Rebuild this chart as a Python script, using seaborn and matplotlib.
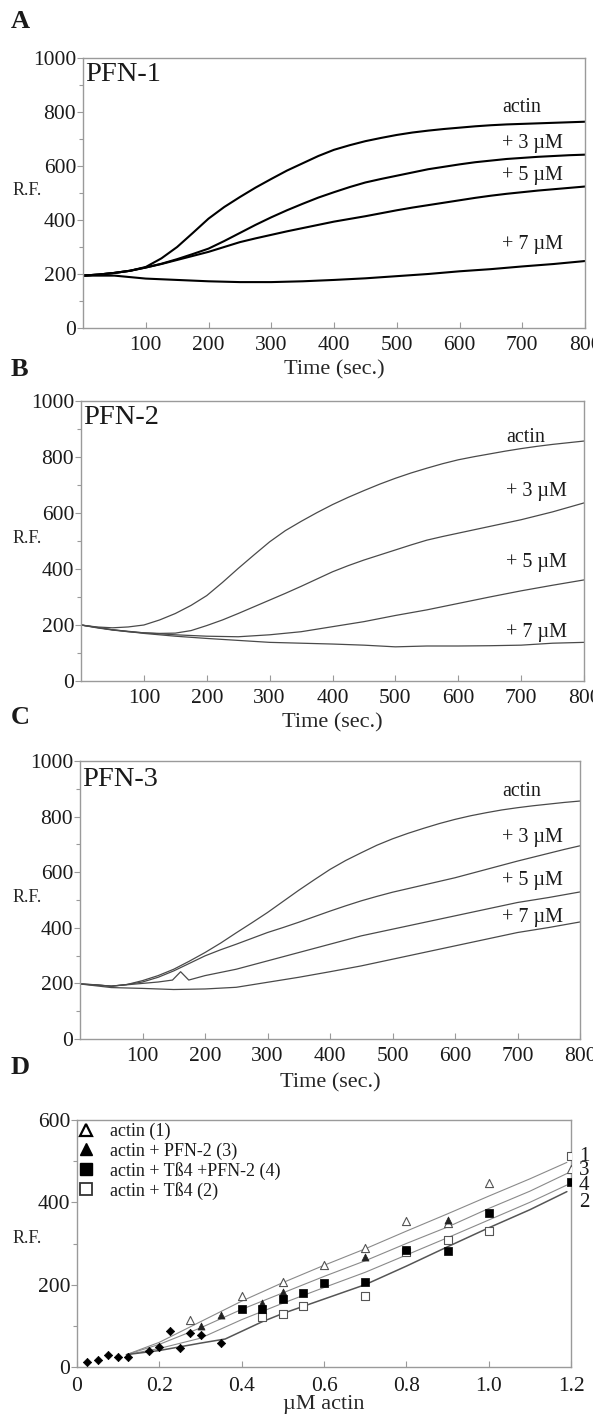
import matplotlib
matplotlib.use("Agg")
import matplotlib.pyplot as plt
from matplotlib.ticker import MultipleLocator, FixedLocator
from matplotlib.lines import Line2D
import pandas as pd
import seaborn as sns

# ---------------- data ----------------
time_25 = list(range(0, 801, 25))
time_50 = list(range(0, 801, 50))
curve_labels = ["actin", "+ 3 \u00b5M", "+ 5 \u00b5M", "+ 7 \u00b5M"]

pfn1_actin = [194, 198, 204, 212, 226, 258, 300, 352, 405, 448, 485, 520, 552, 583, 610, 637, 660,
              677, 692, 704, 715, 724, 731, 737, 742, 747, 751, 754, 756, 758, 760, 762, 764]
pfn1_3uM = [194, 198, 204, 212, 224, 238, 255, 274, 294, 322, 352, 382, 410, 436, 460, 483, 503,
            522, 539, 552, 564, 576, 588, 597, 606, 614, 620, 626, 630, 634, 637, 640, 642]
pfn1_5uM = [194, 198, 204, 212, 224, 237, 252, 267, 282, 300, 318, 332, 345, 358, 370, 382, 394,
            404, 414, 425, 436, 446, 455, 464, 473, 482, 490, 497, 503, 509, 514, 519, 524]
pfn1_7uM = [194, 194, 183, 178, 173, 170, 170, 173, 178, 184, 192, 200, 210, 218, 228, 237, 248]

pfn2_actin = [200, 193, 190, 193, 200, 218, 241, 270, 305, 352, 402, 450, 497, 537, 570, 601, 630,
              656, 680, 703, 724, 743, 760, 776, 790, 801, 811, 821, 830, 838, 845, 851, 857]
pfn2_3uM = [200, 190, 182, 176, 172, 170, 171, 180, 198, 218, 241, 265, 289, 313, 338, 364, 390,
            412, 432, 450, 468, 486, 503, 516, 528, 540, 552, 564, 576, 590, 604, 620, 636]
pfn2_5uM = [200, 183, 172, 165, 160, 158, 165, 176, 194, 212, 234, 254, 277, 300, 322, 342, 361]
pfn2_7uM = [200, 183, 170, 160, 152, 145, 138, 135, 132, 128, 122, 125, 125, 126, 128, 135, 138]

pfn3_actin = [198, 195, 190, 196, 210, 228, 251, 280, 311, 345, 382, 418, 455, 495, 535, 573, 610,
              642, 670, 697, 720, 740, 758, 775, 790, 803, 814, 824, 832, 839, 845, 851, 856]
pfn3_3uM = [198, 195, 190, 196, 205, 222, 245, 272, 299, 321, 341, 362, 383, 401, 420, 440, 460,
            479, 497, 513, 528, 541, 554, 567, 580, 595, 610, 625, 640, 654, 668, 682, 695]
pfn3_5uM_time = [0, 50, 100, 125, 148, 161, 174, 200, 250, 300, 350, 400, 450, 500, 550, 600, 650,
                 700, 750, 800]
pfn3_5uM = [198, 190, 200, 205, 212, 242, 212, 228, 251, 281, 311, 341, 371, 395, 419, 443, 467,
            491, 509, 529]
pfn3_7uM = [198, 185, 182, 178, 180, 186, 204, 222, 242, 263, 287, 311, 335, 359, 383, 401, 421]

# panel D points
diamond_x = [0.025, 0.05, 0.075, 0.10, 0.125, 0.175, 0.20, 0.225, 0.25, 0.275, 0.30, 0.35]
diamond_y = [13, 16, 30, 24, 24, 39, 49, 87, 47, 83, 77, 59]
actin1_x = [0.275, 0.40, 0.50, 0.60, 0.70, 0.80, 0.90, 1.00, 1.20]
actin1_y = [114, 173, 207, 248, 288, 355, 350, 446, 480]
pfn2_3_x = [0.30, 0.35, 0.45, 0.50, 0.70, 0.90]
pfn2_3_y = [100, 126, 156, 181, 266, 358]
tb4pfn2_4_x = [0.40, 0.45, 0.50, 0.55, 0.60, 0.70, 0.80, 0.90, 1.00, 1.20]
tb4pfn2_4_y = [142, 142, 165, 180, 203, 207, 284, 282, 373, 450]
tb4_2_x = [0.45, 0.50, 0.55, 0.70, 0.80, 0.90, 1.00, 1.20]
tb4_2_y = [121, 128, 147, 173, 280, 308, 331, 512]

fit_x = [0.12, 0.2, 0.3, 0.4, 0.5, 0.6, 0.7, 0.8, 0.9, 1.0, 1.1, 1.19]
fit1_y = [30, 60, 110, 160, 205, 247, 287, 330, 372, 415, 457, 497]
fit3_y = [30, 55, 95, 140, 180, 220, 258, 300, 340, 385, 427, 470]
fit4_y = [30, 45, 70, 115, 155, 193, 230, 272, 314, 357, 400, 442]
fit2_x = [0.12, 0.2, 0.3, 0.36, 0.45, 0.5, 0.6, 0.7, 0.8, 0.9, 1.0, 1.1, 1.19]
fit2_y = [30, 40, 58, 68, 110, 130, 165, 200, 245, 292, 338, 382, 426]

legend_labels = ["actin (1)", "actin + PFN-2 (3)", "actin + T\u00df4 +PFN-2 (4)", "actin + T\u00df4 (2)"]
end_labels = ["1", "3", "4", "2"]
end_label_y = [512, 477, 441, 399]

# ---------------- style ----------------
sns.set_style("ticks")
plt.rcParams['font.family'] = ['Liberation Serif', 'DejaVu Serif']
plt.rcParams['axes.edgecolor'] = '#9a9a9a'
plt.rcParams['text.color'] = '#1a1a1a'

W, H = 593, 1416
fig = plt.figure(figsize=(W / 100, H / 100), dpi=100)


def rect(x0, x1, y0, y1):
    return [x0 / W, 1 - y1 / H, (x1 - x0) / W, (y1 - y0) / H]


def style_axes(ax, xpad=6):
    for s in ax.spines.values():
        s.set_visible(True)
        s.set_color('#9a9a9a')
        s.set_linewidth(1.0)
    ax.tick_params(axis='y', which='both', direction='out', length=4, width=0.8,
                   color='#9a9a9a', labelsize=15.5, pad=1, labelcolor='#1a1a1a')
    ax.tick_params(axis='y', which='minor', length=3)
    ax.tick_params(axis='x', which='both', direction='in', length=4, width=0.8,
                   color='#9a9a9a', labelsize=15.5, pad=xpad, labelcolor='#1a1a1a')


panels = [
    ("A", "PFN-1", rect(83, 585, 58, 328), [pfn1_actin, pfn1_3uM, pfn1_5uM, pfn1_7uM],
     [time_25, time_25, time_25, time_50], 'black', 1.5,
     [(668, 816), (668, 685), (668, 564), (668, 309)], 939, 22, 370),
    ("B", "PFN-2", rect(81, 584, 401, 681), [pfn2_actin, pfn2_3uM, pfn2_5uM, pfn2_7uM],
     [time_25, time_25, time_50, time_50], '#4a4a4a', 0.9,
     [(676, 869), (676, 677), (676, 423), (676, 172)], 940, 370, 723),
    ("C", "PFN-3", rect(80, 580, 761, 1039), [pfn3_actin, pfn3_3uM, pfn3_5uM, pfn3_7uM],
     [time_25, time_25, pfn3_5uM_time, time_50], '#4a4a4a', 0.9,
     [(675, 892), (675, 725), (675, 569), (675, 437)], 934, 718, 1083),
]

for letter, name, r, ys, xs, col, lw, labpos, name_y, letter_y, xlab_y in panels:
    ax = fig.add_axes(r)
    for x, y in zip(xs, ys):
        df = pd.DataFrame({"t": x, "rf": y})
        sns.lineplot(data=df, x="t", y="rf", ax=ax, color=col, linewidth=lw)
    for lab, (lx, ly) in zip(curve_labels, labpos):
        ax.text(lx, ly, lab, fontsize=14.5, ha='left', va='center')
    ax.text(4, name_y, name, fontsize=20.5, ha='left', va='center')
    ax.set_xlim(0, 800)
    ax.set_ylim(0, 1000)
    ax.xaxis.set_major_locator(FixedLocator([100, 200, 300, 400, 500, 600, 700, 800]))
    ax.yaxis.set_major_locator(MultipleLocator(200))
    ax.yaxis.set_minor_locator(MultipleLocator(100))
    style_axes(ax)
    ax.set_xlabel("Time (sec.)", fontsize=16)
    ax.set_ylabel("R.F.", fontsize=13, rotation=0)
    bottom_px = (1 - r[1]) * H
    hpx = r[3] * H
    ax.xaxis.set_label_coords(0.5, -(xlab_y - bottom_px) / hpx)
    ax.xaxis.label.set_va('center')
    ax.yaxis.set_label_coords(-(r[0] * W - 27) / (r[2] * W), 0.51)
    ax.yaxis.label.set_va('center')
    ax.yaxis.label.set_ha('center')
    fig.text(11 / W, 1 - letter_y / H, letter, fontsize=19, fontweight='bold',
             ha='left', va='center')

# ---------------- panel D ----------------
rD = rect(77, 571, 1120, 1367)
axd = fig.add_axes(rD)
for fx, fy, c, w in [(fit_x, fit1_y, '#8a8a8a', 0.8), (fit_x, fit3_y, '#8a8a8a', 0.8),
                     (fit_x, fit4_y, '#8a8a8a', 0.8), (fit2_x, fit2_y, '#555555', 1.1)]:
    sns.lineplot(data=pd.DataFrame({"x": fx, "y": fy}), x="x", y="y", ax=axd,
                 color=c, linewidth=w)

sns.scatterplot(data=pd.DataFrame({"x": diamond_x, "y": diamond_y}), x="x", y="y", ax=axd,
                marker='D', s=18, color='black', edgecolor='black', linewidth=0.5, zorder=5)
sns.scatterplot(data=pd.DataFrame({"x": actin1_x, "y": actin1_y}), x="x", y="y", ax=axd,
                marker='^', s=34, facecolor='white', edgecolor='#555555', linewidth=0.8, zorder=5)
sns.scatterplot(data=pd.DataFrame({"x": pfn2_3_x, "y": pfn2_3_y}), x="x", y="y", ax=axd,
                marker='^', s=26, color='#222222', edgecolor='#222222', linewidth=0.5, zorder=5)
sns.scatterplot(data=pd.DataFrame({"x": tb4pfn2_4_x, "y": tb4pfn2_4_y}), x="x", y="y", ax=axd,
                marker='s', s=34, color='black', edgecolor='black', linewidth=0.5, zorder=6)
sns.scatterplot(data=pd.DataFrame({"x": tb4_2_x, "y": tb4_2_y}), x="x", y="y", ax=axd,
                marker='s', s=34, facecolor='white', edgecolor='#555555', linewidth=0.8, zorder=5)

handles = [
    Line2D([], [], linestyle='none', marker='^', markersize=9, markerfacecolor='white',
           markeredgecolor='black', markeredgewidth=1.6),
    Line2D([], [], linestyle='none', marker='^', markersize=9, markerfacecolor='black',
           markeredgecolor='black'),
    Line2D([], [], linestyle='none', marker='s', markersize=8.5, markerfacecolor='black',
           markeredgecolor='black'),
    Line2D([], [], linestyle='none', marker='s', markersize=8.5, markerfacecolor='white',
           markeredgecolor='#333333', markeredgewidth=1.3),
]
axd.legend(handles, legend_labels, loc='upper left', bbox_to_anchor=(-0.005, 1.0),
           frameon=False, fontsize=13, labelspacing=0.12, handlelength=1.0,
           handletextpad=0.8, borderpad=0.15, borderaxespad=0.0)

for lab, ly in zip(end_labels, end_label_y):
    axd.text(1.219, ly, lab, fontsize=15, ha='left', va='center', clip_on=False)

axd.set_xlim(0, 1.2)
axd.set_ylim(0, 600)
axd.xaxis.set_major_locator(FixedLocator([0, 0.2, 0.4, 0.6, 0.8, 1.0, 1.2]))
axd.set_xticklabels(["0", "0.2", "0.4", "0.6", "0.8", "1.0", "1.2"])
axd.yaxis.set_major_locator(MultipleLocator(200))
axd.yaxis.set_minor_locator(MultipleLocator(100))
style_axes(axd, xpad=7)
axd.set_xlabel("\u00b5M actin", fontsize=16)
axd.set_ylabel("R.F.", fontsize=13, rotation=0)
axd.xaxis.set_label_coords(0.5, -(1405 - 1367) / 247)
axd.xaxis.label.set_va('center')
axd.yaxis.set_label_coords(-(77 - 27) / 494, 0.52)
axd.yaxis.label.set_va('center')
axd.yaxis.label.set_ha('center')
fig.text(11 / W, 1 - 1068 / H, "D", fontsize=19, fontweight='bold', ha='left', va='center')

fig.savefig("out.png", dpi=100)
